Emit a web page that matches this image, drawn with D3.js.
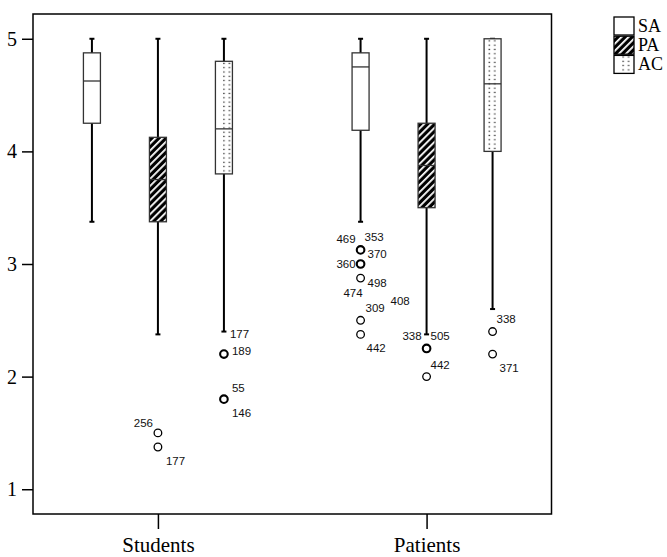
<!DOCTYPE html>
<html>
<head>
<meta charset="utf-8">
<script src="https://cdn.jsdelivr.net/npm/d3@7"></script>
<style>
  body { margin: 0; background: #fff; }
  svg { display: block; }
</style>
</head>
<body>
<svg id="chart" width="667" height="557"></svg>
<script>
// one entry per box, order: Students SA, PA, AC, Patients SA, PA, AC
var groups = ['Students', 'Patients'];
var series = ['SA', 'PA', 'AC'];
var lowWhisker = [3.375, 2.375, 2.4, 3.375, 2.375, 2.6];
var q1 = [4.25, 3.375, 3.8, 4.1875, 3.5, 4.0];
var median = [4.625, 3.75, 4.2, 4.75, 3.875, 4.6];
var q3 = [4.875, 4.125, 4.8, 4.875, 4.25, 5];
var highWhisker = [5, 5, 5, 5, 5, 5];
var yTicks = [1, 2, 3, 4, 5];

// outlier cases: group, series, value, case number
var outlierGroup = ['Students', 'Students', 'Students', 'Students', 'Students', 'Students',
  'Patients', 'Patients', 'Patients', 'Patients', 'Patients', 'Patients', 'Patients', 'Patients', 'Patients',
  'Patients', 'Patients', 'Patients', 'Patients', 'Patients'];
var outlierSeries = ['PA', 'PA', 'AC', 'AC', 'AC', 'AC',
  'SA', 'SA', 'SA', 'SA', 'SA', 'SA', 'SA', 'SA', 'SA',
  'PA', 'PA', 'PA', 'AC', 'AC'];
var outlierValue = [1.5, 1.375, 2.4, 2.2, 1.8, 1.8,
  3.125, 3.125, 3.125, 3, 2.875, 2.875, 2.5, 2.5, 2.375,
  2.25, 2.25, 2, 2.4, 2.2];
var outlierCase = ['256', '177', '177', '189', '55', '146',
  '469', '353', '370', '360', '498', '474', '309', '408', '442',
  '338', '505', '442', '338', '371'];
// case sitting right on the whisker end (no circle drawn)
var onWhisker = ['Students|AC|177'];
// points where several cases overlap (drawn heavier)
var stacked = ['Students|AC|2.2', 'Students|AC|1.8', 'Patients|SA|3.125', 'Patients|SA|3', 'Patients|PA|2.25'];

// label nudges [dx, dy, anchor]
var nudge = {
  'Students|PA|256': [-5, -6, 'end'], 'Students|PA|177': [8, 18, 'start'],
  'Students|AC|177': [6, 6, 'start'], 'Students|AC|189': [8, 1, 'start'],
  'Students|AC|55': [8, -7, 'start'], 'Students|AC|146': [8, 18, 'start'],
  'Patients|SA|469': [-5, -7, 'end'], 'Patients|SA|353': [4, -9, 'start'],
  'Patients|SA|370': [7, 8, 'start'], 'Patients|SA|360': [-5, 4, 'end'],
  'Patients|SA|498': [7, 9, 'start'], 'Patients|SA|474': [2, 19, 'end'],
  'Patients|SA|309': [5, -8, 'start'], 'Patients|SA|408': [30, -15, 'start'],
  'Patients|SA|442': [6, 18, 'start'],
  'Patients|PA|338': [-5, -8, 'end'], 'Patients|PA|505': [4, -8, 'start'],
  'Patients|PA|442': [4, -8, 'start'],
  'Patients|AC|338': [4, -9, 'start'], 'Patients|AC|371': [7, 18, 'start']
};

var serif = '"Liberation Serif", "Times New Roman", serif';
var sans = '"Liberation Sans", Arial, sans-serif';

var svg = d3.select('#chart');
var plot = { left: 33, top: 14, right: 551.5, bottom: 514 };
var boxW = 17;

var y = d3.scaleLinear().domain([0.78, 5.22]).range([plot.bottom, plot.top]);
var x = d3.scalePoint().domain(groups).range([plot.left, plot.right]).padding(0.465);
var xs = d3.scalePoint().domain(series).range([-66, 66]);

var defs = svg.append('defs');
defs.append('pattern')
  .attr('id', 'hatch')
  .attr('patternUnits', 'userSpaceOnUse')
  .attr('width', 5).attr('height', 5)
  .attr('patternTransform', 'rotate(45)')
  .call(function (p) {
    p.append('rect').attr('width', 5).attr('height', 5).attr('fill', '#000');
    p.append('rect').attr('x', 0).attr('width', 1.8).attr('height', 5).attr('fill', '#fff');
  });

function dotPattern(id, x0, y0) {
  var p = defs.append('pattern')
    .attr('id', id)
    .attr('patternUnits', 'userSpaceOnUse')
    .attr('x', x0).attr('y', y0)
    .attr('width', boxW).attr('height', 4.3);
  p.append('rect').attr('width', boxW).attr('height', 4.3).attr('fill', '#fff');
  p.append('rect').attr('x', 5).attr('y', 1.5).attr('width', 1.2).attr('height', 1.2).attr('fill', '#000');
  p.append('rect').attr('x', 10.5).attr('y', 1.5).attr('width', 1.2).attr('height', 1.2).attr('fill', '#000');
  return 'url(#' + id + ')';
}

function fillFor(s, x0, y0, id) {
  if (s == 'SA') return '#fff';
  if (s == 'PA') return 'url(#hatch)';
  return dotPattern(id, x0, y0);
}

// boxes
var boxes = [];
groups.forEach(function (g, gi) {
  series.forEach(function (s, si) {
    var i = gi * series.length + si;
    boxes.push({ g: g, s: s, lo: lowWhisker[i], q1: q1[i], med: median[i], q3: q3[i], hi: highWhisker[i] });
  });
});

var gBox = svg.append('g').selectAll('g').data(boxes).join('g')
  .attr('transform', function (d) { return 'translate(' + (x(d.g) + xs(d.s)) + ',0)'; });

gBox.append('line')
  .attr('y1', function (d) { return y(d.hi); })
  .attr('y2', function (d) { return y(d.lo); })
  .attr('stroke', '#000').attr('stroke-width', 2);
gBox.append('line')
  .attr('x1', -2.5).attr('x2', 2.5)
  .attr('y1', function (d) { return y(d.hi); }).attr('y2', function (d) { return y(d.hi); })
  .attr('stroke', '#000').attr('stroke-width', 2);
gBox.append('line')
  .attr('x1', -2.5).attr('x2', 2.5)
  .attr('y1', function (d) { return y(d.lo); }).attr('y2', function (d) { return y(d.lo); })
  .attr('stroke', '#000').attr('stroke-width', 2);

gBox.append('rect')
  .attr('x', -boxW / 2)
  .attr('y', function (d) { return y(d.q3); })
  .attr('width', boxW)
  .attr('height', function (d) { return y(d.q1) - y(d.q3); })
  .attr('fill', function (d, i) { return fillFor(d.s, x(d.g) + xs(d.s) - boxW / 2, y(d.q3), 'dots' + i); })
  .attr('stroke', '#333').attr('stroke-width', 1.3);

gBox.append('line')
  .attr('x1', -boxW / 2).attr('x2', boxW / 2)
  .attr('y1', function (d) { return y(d.med); }).attr('y2', function (d) { return y(d.med); })
  .attr('stroke', '#333').attr('stroke-width', 1.3);

// outliers
var cases = outlierCase.map(function (c, i) {
  return { g: outlierGroup[i], s: outlierSeries[i], v: outlierValue[i], c: c, key: outlierGroup[i] + '|' + outlierSeries[i] + '|' + c };
});
var pts = d3.groups(cases.filter(function (d) { return onWhisker.indexOf(d.key) < 0; }),
  function (d) { return d.g + '|' + d.s + '|' + d.v; });

svg.append('g').selectAll('circle').data(pts).join('circle')
  .attr('cx', function (d) { var k = d[0].split('|'); return x(k[0]) + xs(k[1]); })
  .attr('cy', function (d) { return y(+d[0].split('|')[2]); })
  .attr('r', 3.8)
  .attr('fill', 'none')
  .attr('stroke', '#000')
  .attr('stroke-width', function (d) { return stacked.indexOf(d[0]) >= 0 ? 2.1 : 1.3; });

svg.append('g').selectAll('text').data(cases).join('text')
  .attr('x', function (d) { return x(d.g) + xs(d.s) + nudge[d.key][0]; })
  .attr('y', function (d) { return y(d.v) + nudge[d.key][1]; })
  .attr('text-anchor', function (d) { return nudge[d.key][2]; })
  .attr('font-family', sans)
  .attr('font-size', 11.5)
  .attr('fill', '#111')
  .text(function (d) { return d.c; });

// axes
var yAxis = svg.append('g')
  .attr('transform', 'translate(' + plot.left + ',0)')
  .call(d3.axisLeft(y).tickValues(yTicks).tickSize(11).tickPadding(5).tickFormat(d3.format('d')));
var xAxis = svg.append('g')
  .attr('transform', 'translate(0,' + plot.bottom + ')')
  .call(d3.axisBottom(x).tickSize(15).tickPadding(8));
[yAxis, xAxis].forEach(function (a) {
  a.attr('font-family', serif);
  a.select('.domain').remove();
  a.selectAll('line').attr('stroke', '#000').attr('stroke-width', 1.5);
  a.selectAll('text').attr('fill', '#000');
});
yAxis.attr('font-size', 20);
xAxis.attr('font-size', 21);

svg.append('rect')
  .attr('x', plot.left).attr('y', plot.top)
  .attr('width', plot.right - plot.left).attr('height', plot.bottom - plot.top)
  .attr('fill', 'none').attr('stroke', '#000').attr('stroke-width', 1.5);

// legend
var leg = svg.append('g').attr('transform', 'translate(614,17)');
var li = leg.selectAll('g').data(series).join('g')
  .attr('transform', function (d, i) { return 'translate(0,' + i * 19.2 + ')'; });
li.append('rect')
  .attr('width', 20).attr('height', 18)
  .attr('fill', function (d, i) { return fillFor(d, 614 + 1.5, 17 + i * 19.2, 'legdots' + i); })
  .attr('stroke', '#000').attr('stroke-width', 1.3);
li.append('text')
  .attr('x', 24).attr('y', 15)
  .attr('font-family', serif)
  .attr('font-size', 18)
  .text(function (d) { return d; });
</script>
</body>
</html>
